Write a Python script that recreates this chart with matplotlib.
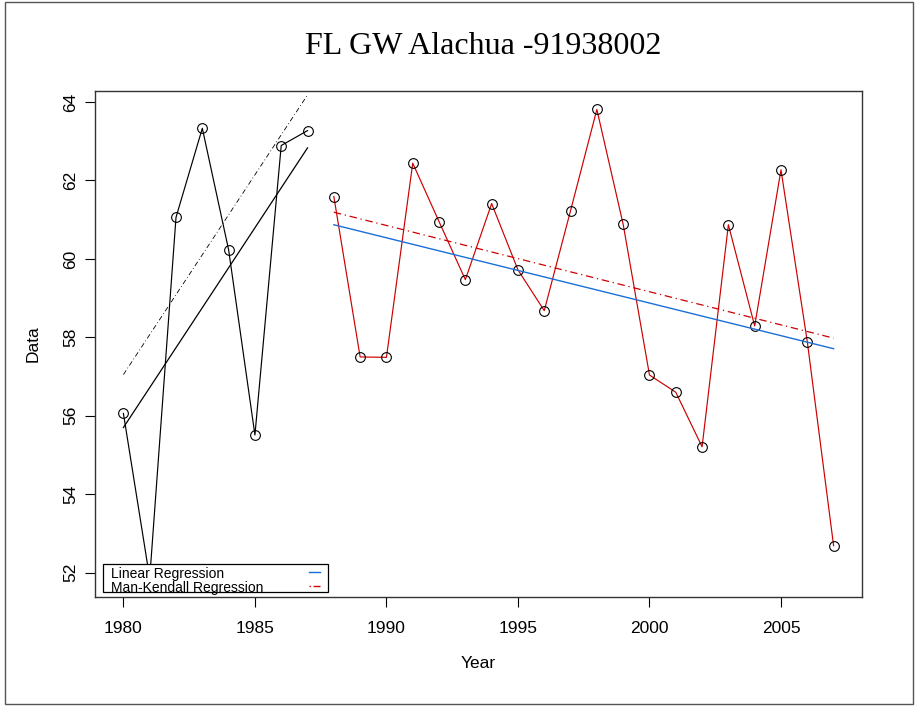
import numpy as np
import matplotlib.pyplot as plt
from matplotlib.patches import Rectangle
from matplotlib.lines import Line2D

# Datos
years_early = [1980, 1981, 1982, 1983, 1984, 1985, 1986, 1987]
data_early = [56.06, 51.86, 61.06, 63.33, 60.23, 55.51, 62.89, 63.27]

years_late = [1988, 1989, 1990, 1991, 1992, 1993, 1994, 1995, 1996, 1997,
              1998, 1999, 2000, 2001, 2002, 2003, 2004, 2005, 2006, 2007]
data_late = [61.59, 57.50, 57.49, 62.44, 60.95, 59.47, 61.41, 59.72, 58.68, 61.23,
             63.81, 60.88, 57.04, 56.60, 55.21, 60.87, 58.29, 62.27, 57.89, 52.69]

# Rectas de tendencia (extremos)
lin_early_x = [1980, 1987]
lin_early_y = [55.70, 62.83]
mk_early_x = [1980, 1987]
mk_early_y = [57.05, 64.18]
lin_late_x = [1988, 2007]
lin_late_y = [60.87, 57.71]
mk_late_x = [1988, 2007]
mk_late_y = [61.19, 57.98]

xticks = [1980, 1985, 1990, 1995, 2000, 2005]
yticks = [52, 54, 56, 58, 60, 62, 64]

plt.rcParams['font.family'] = ['Liberation Sans', 'DejaVu Sans']

fig = plt.figure(figsize=(9.16, 7.06), dpi=100)
ax = fig.add_axes([95/916, 1 - 597/706, 767/916, 506/706])

ax.plot(years_early, data_early, color='black', lw=0.85, marker='o', ms=7,
        mfc='none', mec='black', mew=0.8)
ax.plot(lin_early_x, lin_early_y, color='black', lw=0.9)
ax.plot(mk_early_x, mk_early_y, color='black', lw=0.6, dashes=[6, 3, 1, 3])

ax.plot(years_late, data_late, color='#cc0000', lw=0.85, marker='o', ms=7,
        mfc='none', mec='black', mew=0.8)
ax.plot(lin_late_x, lin_late_y, color='#1a6fd6', lw=1.0)
ax.plot(mk_late_x, mk_late_y, color='#cc0000', lw=0.9, dashes=[6, 3, 1, 3])

ax.set_xlim(1978.92, 2008.08)
ax.set_ylim(51.38, 64.28)
ax.set_xticks(xticks)
ax.set_yticks(yticks)
ax.tick_params(axis='both', length=7, width=0.8, labelsize=12.5, direction='out')
ax.tick_params(axis='x', pad=10)
ax.tick_params(axis='y', pad=5)
for lab in ax.get_yticklabels():
    lab.set_rotation(90)
    lab.set_va('center')
for s in ax.spines.values():
    s.set_linewidth(1.0)
    s.set_color('#333333')

ax.set_xlabel('Year', fontsize=12.5, labelpad=15)
ax.set_ylabel('Data', fontsize=12.5, labelpad=16)

# leyenda hecha a mano (como en el original)
ax.add_patch(Rectangle((0.010, 0.010), 0.294, 0.055, transform=ax.transAxes,
                       facecolor='white', edgecolor='black', lw=0.9, zorder=5))
ax.text(0.021, 0.045, 'Linear Regression', transform=ax.transAxes,
        fontsize=10, va='center', zorder=6)
ax.text(0.021, 0.017, 'Man-Kendall Regression', transform=ax.transAxes,
        fontsize=10, va='center', zorder=6)
ax.add_line(Line2D([0.279, 0.293], [0.050, 0.050], transform=ax.transAxes,
                   color='#1a6fd6', lw=1.0, zorder=6))
ax.add_line(Line2D([0.279, 0.293], [0.022, 0.022], transform=ax.transAxes,
                   color='#cc0000', lw=1.0, dashes=[1, 2, 5, 1], zorder=6))

fig.text(483/916, 1 - 54.5/706, 'FL GW Alachua -91938002', ha='center', va='baseline',
         fontsize=23, family=['Liberation Serif', 'DejaVu Serif'])

fig.patches.append(Rectangle((5/916, 2/706), 908/916, 702/706, transform=fig.transFigure,
                             fill=False, edgecolor='#555555', lw=1.0))

fig.savefig('out.png', dpi=100)
